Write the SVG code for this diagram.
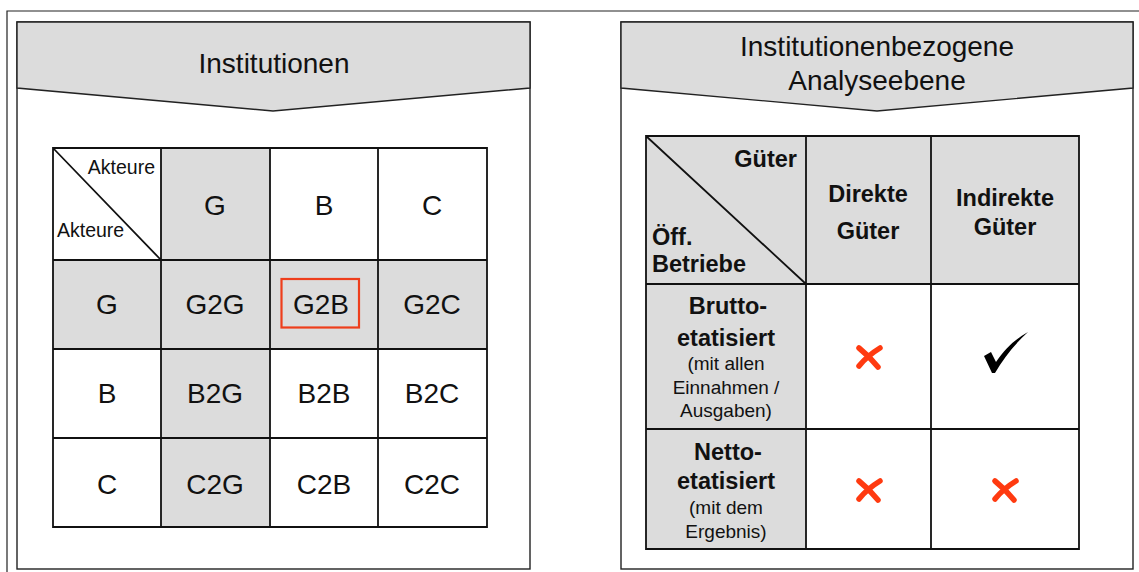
<svg xmlns="http://www.w3.org/2000/svg" width="1139" height="572" viewBox="0 0 1139 572">
  <style>
    .frame { fill: none; stroke: #222; stroke-width: 1.2; }
    .panel { fill: #fff; stroke: #222; stroke-width: 1.4; }
    .head { fill: #dcdcdc; stroke: #222; stroke-width: 1.4; stroke-linejoin: miter; }
    .grey { fill: #dcdcdc; }
    .grid { fill: none; stroke: #111; stroke-width: 1.8; }
    .t { font-family: "Liberation Sans", Arial, sans-serif; fill: #111; text-anchor: middle; }
    .h { font-size: 28px; }
    .c { font-size: 28px; }
    .ak { font-size: 19.5px; }
    .b { font-size: 23.5px; font-weight: bold; }
    .s { font-size: 19px; }
    .x { fill: none; stroke: #ff3a10; stroke-width: 5.5; stroke-linecap: round; }
  </style>

  <!-- outer frame -->
  <path class="frame" d="M7,572 V11 H1139"/>

  <!-- left panel: actor matrix -->
  <g id="panel-institutionen">
    <rect class="panel" x="17" y="22" width="513" height="547"/>
    <path class="head" d="M17,22 H530 V88 L273,111 L17,88 Z"/>
    <text class="t h" x="274" y="73">Institutionen</text>
  </g>

  <g id="matrix-akteure">
    <!-- shaded column G and row G -->
    <rect class="grey" x="161" y="148" width="109" height="379"/>
    <rect class="grey" x="53" y="260" width="434" height="89"/>
    <path class="grid" d="M53,148 H487 V527 H53 Z M161,148 V527 M270,148 V527 M378,148 V527 M53,260 H487 M53,349 H487 M53,438 H487 M53,148 L161,260"/>
    <text class="t ak" x="155" y="174" style="text-anchor:end">Akteure</text>
    <text class="t ak" x="57" y="237" style="text-anchor:start">Akteure</text>
    <text class="t c" x="215" y="215">G</text>
    <text class="t c" x="324" y="215">B</text>
    <text class="t c" x="432" y="215">C</text>
    <text class="t c" x="107" y="314">G</text>
    <text class="t c" x="215" y="314">G2G</text>
    <text class="t c" x="321" y="314">G2B</text>
    <text class="t c" x="432" y="314">G2C</text>
    <text class="t c" x="107" y="403">B</text>
    <text class="t c" x="215" y="403">B2G</text>
    <text class="t c" x="324" y="403">B2B</text>
    <text class="t c" x="432" y="403">B2C</text>
    <text class="t c" x="107" y="494">C</text>
    <text class="t c" x="215" y="494">C2G</text>
    <text class="t c" x="324" y="494">C2B</text>
    <text class="t c" x="432" y="494">C2C</text>
    <rect id="highlight-g2b" x="281.5" y="279" width="77.5" height="48.5" fill="none" stroke="#ee3e1c" stroke-width="2.2"/>
  </g>

  <!-- right panel: analysis level -->
  <g id="panel-analyseebene">
    <rect class="panel" x="621" y="22" width="512" height="547"/>
    <path class="head" d="M621,22 H1133 V88 L877,111 L621,88 Z"/>
    <text class="t h" x="877" y="56">Institutionenbezogene</text>
    <text class="t h" x="877" y="90">Analyseebene</text>
  </g>

  <g id="matrix-betriebe">
    <rect class="grey" x="646" y="136" width="433" height="148"/>
    <rect class="grey" x="646" y="284" width="160" height="265"/>
    <path class="grid" d="M646,136 H1079 V549 H646 Z M806,136 V549 M931,136 V549 M646,284 H1079 M646,429 H1079 M646,136 L806,284"/>
    <text class="t b" x="797" y="166.5" style="text-anchor:end">Güter</text>
    <text class="t b" x="652" y="244.5" style="text-anchor:start">Öff.</text>
    <text class="t b" x="652" y="271.5" style="text-anchor:start">Betriebe</text>
    <text class="t b" x="868" y="201.5">Direkte</text>
    <text class="t b" x="868" y="238.5">Güter</text>
    <text class="t b" x="1005" y="205.5">Indirekte</text>
    <text class="t b" x="1005" y="234.5">Güter</text>

    <text class="t b" x="728" y="313.5">Brutto-</text>
    <text class="t b" x="726" y="345.5">etatisiert</text>
    <text class="t s" x="726" y="370">(mit allen</text>
    <text class="t s" x="726" y="394">Einnahmen /</text>
    <text class="t s" x="726" y="417">Ausgaben)</text>

    <text class="t b" x="728" y="459.5">Netto-</text>
    <text class="t b" x="726" y="488.5">etatisiert</text>
    <text class="t s" x="726" y="514">(mit dem</text>
    <text class="t s" x="726" y="538">Ergebnis)</text>

    <!-- marks -->
    <g id="mark-brutto-direkt"><path class="x" d="M859,348 Q869,356 878,367 M880,348 Q867,356 859,366"/></g>
    <path id="mark-brutto-indirekt" fill="#000" d="M984,356 L991,352 L996,362 C1006,347 1016,339 1028,332 C1016,343 1004,357 995,373 L992,373 Z"/>
    <g id="mark-netto-direkt"><path class="x" d="M859,481 Q869,489 878,500 M880,481 Q867,489 859,499"/></g>
    <g id="mark-netto-indirekt"><path class="x" d="M995,481 Q1005,489 1014,500 M1016,481 Q1003,489 995,499"/></g>
  </g>
</svg>
